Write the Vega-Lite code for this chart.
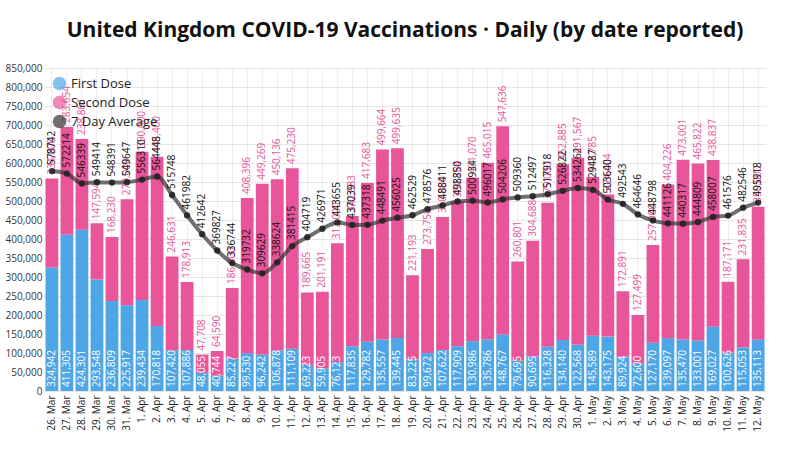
{
  "$schema": "https://vega.github.io/schema/vega-lite/v6.json",
  "width": 722,
  "height": 323,
  "padding": {"left": 5, "top": 20, "right": 18, "bottom": 0},
  "title": {"text": "United Kingdom COVID-19 Vaccinations · Daily (by date reported)", "fontSize": 21, "font": "Open Sans", "fontWeight": "bold", "color": "#111", "offset": 22},
  "data": {"values": [
    {"date": "26. Mar", "first": 324942, "second": 234000, "avg": 578742},
    {"date": "27. Mar", "first": 411305, "second": 283654, "avg": 572214},
    {"date": "28. Mar", "first": 424301, "second": 238861, "avg": 546339},
    {"date": "29. Mar", "first": 293548, "second": 147594, "avg": 549414},
    {"date": "30. Mar", "first": 236809, "second": 168230, "avg": 548391},
    {"date": "31. Mar", "first": 225917, "second": 279000, "avg": 549647},
    {"date": "1. Apr", "first": 239434, "second": 390000, "avg": 556310},
    {"date": "2. Apr", "first": 170818, "second": 445400, "avg": 564448},
    {"date": "3. Apr", "first": 107420, "second": 246631, "avg": 515748},
    {"date": "4. Apr", "first": 107886, "second": 178913, "avg": 461982},
    {"date": "5. Apr", "first": 48055, "second": 47708, "avg": 412642},
    {"date": "6. Apr", "first": 40744, "second": 64590, "avg": 369827},
    {"date": "7. Apr", "first": 85227, "second": 186000, "avg": 336744},
    {"date": "8. Apr", "first": 99530, "second": 408396, "avg": 319732},
    {"date": "9. Apr", "first": 96242, "second": 449269, "avg": 309629},
    {"date": "10. Apr", "first": 106878, "second": 450136, "avg": 338624},
    {"date": "11. Apr", "first": 111109, "second": 475230, "avg": 381415},
    {"date": "12. Apr", "first": 69223, "second": 189665, "avg": 404719},
    {"date": "13. Apr", "first": 59905, "second": 201191, "avg": 426971},
    {"date": "14. Apr", "first": 76123, "second": 313000, "avg": 443655},
    {"date": "15. Apr", "first": 117835, "second": 342983, "avg": 437039},
    {"date": "16. Apr", "first": 129782, "second": 417683, "avg": 437318},
    {"date": "17. Apr", "first": 135557, "second": 499664, "avg": 448491},
    {"date": "18. Apr", "first": 139445, "second": 499635, "avg": 456025},
    {"date": "19. Apr", "first": 83225, "second": 221193, "avg": 462529},
    {"date": "20. Apr", "first": 99672, "second": 273750, "avg": 478576},
    {"date": "21. Apr", "first": 107622, "second": 350000, "avg": 488411},
    {"date": "22. Apr", "first": 117909, "second": 380784, "avg": 498850},
    {"date": "23. Apr", "first": 130986, "second": 431070, "avg": 500934},
    {"date": "24. Apr", "first": 135786, "second": 465015, "avg": 496017},
    {"date": "25. Apr", "first": 148767, "second": 547636, "avg": 504206},
    {"date": "26. Apr", "first": 79695, "second": 260801, "avg": 509360},
    {"date": "27. Apr", "first": 90695, "second": 304688, "avg": 512497},
    {"date": "28. Apr", "first": 116328, "second": 379000, "avg": 517918},
    {"date": "29. Apr", "first": 134140, "second": 462885, "avg": 526822},
    {"date": "30. Apr", "first": 122568, "second": 491567, "avg": 534262},
    {"date": "1. May", "first": 145589, "second": 417785, "avg": 529487},
    {"date": "2. May", "first": 143175, "second": 374004, "avg": 503640},
    {"date": "3. May", "first": 89924, "second": 172891, "avg": 492543},
    {"date": "4. May", "first": 72600, "second": 127499, "avg": 464646},
    {"date": "5. May", "first": 127170, "second": 257000, "avg": 448798},
    {"date": "6. May", "first": 139097, "second": 404226, "avg": 441126},
    {"date": "7. May", "first": 135470, "second": 473001, "avg": 440317},
    {"date": "8. May", "first": 133001, "second": 465822, "avg": 444809},
    {"date": "9. May", "first": 169027, "second": 438837, "avg": 458007},
    {"date": "10. May", "first": 100626, "second": 187171, "avg": 461576},
    {"date": "11. May", "first": 115053, "second": 231835, "avg": 482546},
    {"date": "12. May", "first": 135113, "second": 350000, "avg": 495918}
  ]},
  "encoding": {
    "x": {"field": "date", "type": "ordinal", "sort": null, "title": null,
      "scale": {"paddingInner": 0.15, "paddingOuter": 0.1},
      "axis": {"labelAngle": -90, "labelFontSize": 10, "labelColor": "#222", "grid": true, "gridColor": "#eee", "domain": false, "ticks": false, "labelPadding": 4}}
  },
  "layer": [
    {
      "transform": [{"fold": ["first", "second"], "as": ["dose", "value"]}],
      "mark": {"type": "bar"},
      "encoding": {
        "y": {"field": "value", "type": "quantitative", "stack": "zero", "title": null, "scale": {"domain": [0, 850000], "nice": false},
          "axis": {"labelExpr": "format(datum.value, ',')", "values": [0,50000,100000,150000,200000,250000,300000,350000,400000,450000,500000,550000,600000,650000,700000,750000,800000,850000], "labelOverlap": false, "labelFontSize": 10, "labelColor": "#333", "gridColor": "#e6e6e6", "domain": false, "ticks": false}},
        "color": {"field": "dose", "type": "nominal",
          "scale": {"domain": ["first", "second"], "range": ["#4ea6e6", "#e9559a"]},
          "legend": null},
        "order": {"field": "dose", "sort": "ascending"}
      }
    },
    {
      "transform": [
        {"fold": ["first", "second"], "as": ["dose", "value"]},
        {"stack": "value", "groupby": ["date"], "sort": [{"field": "dose", "order": "ascending"}], "as": ["v0", "v1"]},
        {"filter": "datum.dose == 'second'"}
      ],
      "mark": {"type": "text", "angle": 270, "align": "left", "baseline": "middle", "dx": 4, "fontSize": 10, "color": "#e9559a"},
      "encoding": {
        "y": {"field": "v1", "type": "quantitative", "title": null,
          "axis": {"labelExpr": "format(datum.value, ',')", "values": [0,50000,100000,150000,200000,250000,300000,350000,400000,450000,500000,550000,600000,650000,700000,750000,800000,850000], "labelOverlap": false, "labelFontSize": 10, "labelColor": "#333", "gridColor": "#e6e6e6", "domain": false, "ticks": false}},
        "text": {"field": "value", "type": "quantitative", "format": ","}
      }
    },
    {
      "mark": {"type": "text", "angle": 270, "align": "left", "baseline": "middle", "dx": 4, "fontSize": 10, "color": "white"},
      "encoding": {
        "y": {"datum": 0, "type": "quantitative", "title": null,
          "axis": {"labelExpr": "format(datum.value, ',')", "values": [0,50000,100000,150000,200000,250000,300000,350000,400000,450000,500000,550000,600000,650000,700000,750000,800000,850000], "labelOverlap": false, "labelFontSize": 10, "labelColor": "#333", "gridColor": "#e6e6e6", "domain": false, "ticks": false}},
        "text": {"field": "first", "type": "quantitative", "format": ","}
      }
    },
    {
      "mark": {"type": "line", "color": "#333", "strokeWidth": 4, "opacity": 0.7, "interpolate": "monotone"},
      "encoding": {"y": {"field": "avg", "type": "quantitative", "title": null,
          "axis": {"labelExpr": "format(datum.value, ',')", "values": [0,50000,100000,150000,200000,250000,300000,350000,400000,450000,500000,550000,600000,650000,700000,750000,800000,850000], "labelOverlap": false, "labelFontSize": 10, "labelColor": "#333", "gridColor": "#e6e6e6", "domain": false, "ticks": false}}}
    },
    {
      "mark": {"type": "circle", "color": "#222", "size": 40, "opacity": 0.9},
      "encoding": {"y": {"field": "avg", "type": "quantitative", "title": null,
          "axis": {"labelExpr": "format(datum.value, ',')", "values": [0,50000,100000,150000,200000,250000,300000,350000,400000,450000,500000,550000,600000,650000,700000,750000,800000,850000], "labelOverlap": false, "labelFontSize": 10, "labelColor": "#333", "gridColor": "#e6e6e6", "domain": false, "ticks": false}}}
    },
    {
      "mark": {"type": "text", "angle": 270, "align": "left", "baseline": "middle", "dx": 6, "fontSize": 10, "color": "#111"},
      "encoding": {
        "y": {"field": "avg", "type": "quantitative", "title": null,
          "axis": {"labelExpr": "format(datum.value, ',')", "values": [0,50000,100000,150000,200000,250000,300000,350000,400000,450000,500000,550000,600000,650000,700000,750000,800000,850000], "labelOverlap": false, "labelFontSize": 10, "labelColor": "#333", "gridColor": "#e6e6e6", "domain": false, "ticks": false}},
        "text": {"field": "avg", "type": "quantitative", "format": "d"}
      }
    },
    {
      "data": {"values": [{"label": "First Dose"}, {"label": "Second Dose"}, {"label": "7 Day Average"}]},
      "mark": {"type": "point", "filled": true, "shape": "circle", "size": 0},
      "encoding": {
        "x": {"value": 0},
        "y": {"value": 0},
        "fill": {"field": "label", "type": "nominal", "sort": null,
          "scale": {"domain": ["First Dose", "Second Dose", "7 Day Average"], "range": ["#4ea6e6", "#e9559a", "#333333"]},
          "legend": {"title": null, "orient": "top-left", "offset": 8, "labelFontSize": 13, "symbolSize": 180, "labelColor": "#222", "rowPadding": 4}}
      }
    }
  ],
  "config": {"view": {"stroke": null}, "font": "Open Sans"}
}
